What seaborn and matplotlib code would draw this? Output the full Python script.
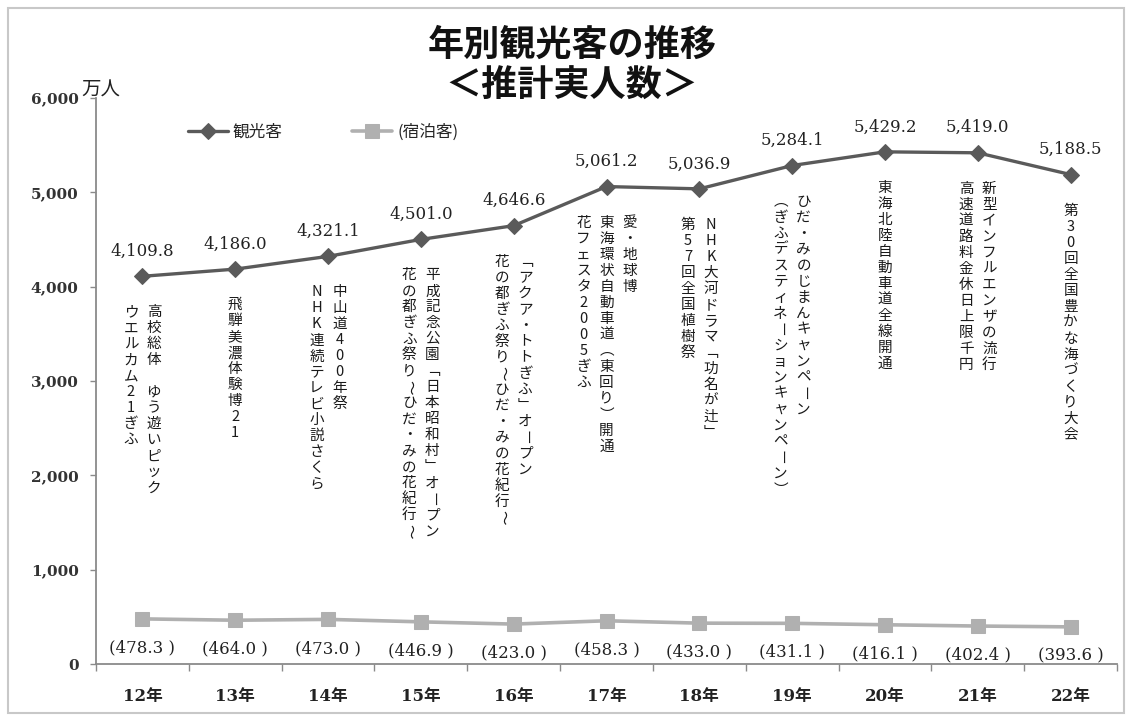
import numpy as np
import pandas as pd
import matplotlib
matplotlib.use("Agg")
import matplotlib.pyplot as plt
import seaborn as sns
from matplotlib.patches import Rectangle

# ---- data -------------------------------------------------------------
years = ["12年", "13年", "14年", "15年", "16年", "17年",
         "18年", "19年", "20年", "21年", "22年"]
visitors = [4109.8, 4186.0, 4321.1, 4501.0, 4646.6, 5061.2,
            5036.9, 5284.1, 5429.2, 5419.0, 5188.5]
overnight = [478.3, 464.0, 473.0, 446.9, 423.0, 458.3,
             433.0, 431.1, 416.1, 402.4, 393.6]
series_names = ["観光客", "(宿泊客)"]
y_ticks = [0, 1000, 2000, 3000, 4000, 5000, 6000]
title_lines = ["年別観光客の推移", "＜推計実人数＞"]
unit_label = "万人"

# events of each year; columns are read right to left (vertical writing)
events = [
    ["高校総体　ゆう遊いピック", "ウエルカム21ぎふ"],
    ["飛騨美濃体験博21"],
    ["中山道400年祭", "NHK連続テレビ小説さくら"],
    ["平成記念公園「日本昭和村」オープン", "花の都ぎふ祭り〜ひだ・みの花紀行〜"],
    ["「アクア・トトぎふ」オープン", "花の都ぎふ祭り〜ひだ・みの花紀行〜"],
    ["愛・地球博", "東海環状自動車道(東回り)開通", "花フェスタ2005ぎふ"],
    ["NHK大河ドラマ「功名が辻」", "第57回全国植樹祭"],
    ["ひだ・みのじまんキャンペーン", "(ぎふデスティネーションキャンペーン)"],
    ["東海北陸自動車道全線開通"],
    ["新型インフルエンザの流行", "高速道路料金休日上限千円"],
    ["第30回全国豊かな海づくり大会"],
]

# ---- style ------------------------------------------------------------
sns.set_theme(style="white")
plt.rcParams["font.family"] = ["Noto Sans CJK JP", "DejaVu Sans"]
NUM_FONT = ["DejaVu Serif", "Noto Sans CJK JP"]
MAIN = "#5a5a5a"
SUB = "#b0b0b0"
AXIS = "#8a8a8a"

W, H = 1131, 716
fig = plt.figure(figsize=(W / 100, H / 100), dpi=100)
fig.patch.set_facecolor("white")
ax = fig.add_axes([96 / W, 52 / H, 1021 / W, 566 / H])

df = pd.DataFrame({"year": years, "visitors": visitors, "overnight": overnight})

sns.lineplot(data=df, x="year", y="visitors", ax=ax, sort=False,
             color=MAIN, linewidth=2.4, marker="D", markersize=8,
             markeredgecolor=MAIN, label=series_names[0])
sns.lineplot(data=df, x="year", y="overnight", ax=ax, sort=False,
             color=SUB, linewidth=2.6, marker="s", markersize=10,
             markeredgecolor=SUB, label=series_names[1])

# ---- axes -------------------------------------------------------------
ax.set_xlim(-0.5, len(years) - 0.5)
ax.set_ylim(y_ticks[0], y_ticks[-1])
ax.set_xlabel("")
ax.set_ylabel("")
ax.set_yticks(y_ticks)
ax.set_yticklabels([f"{t:,}" for t in y_ticks], family=NUM_FONT,
                   fontsize=11, fontweight="bold", color="#333333")
ax.set_xticks(range(len(years)))
ax.set_xticklabels(years, family=NUM_FONT, fontsize=12,
                   fontweight="bold", color="#222222")
ax.set_xticks(np.arange(-0.5, len(years), 1.0), minor=True)

ax.tick_params(axis="y", which="major", left=True, length=4.5, width=1,
               color=AXIS, pad=8)
ax.tick_params(axis="x", which="major", bottom=True, length=0, pad=17)
ax.tick_params(axis="x", which="minor", bottom=True, length=5, width=1,
               color=AXIS)

for side in ("top", "right"):
    ax.spines[side].set_visible(False)
for side in ("left", "bottom"):
    ax.spines[side].set_color(AXIS)
    ax.spines[side].set_linewidth(1.3)

# ---- value labels -----------------------------------------------------
for i, v in enumerate(visitors):
    ax.annotate(f"{v:,.1f}", xy=(i, v), xytext=(0, 25),
                textcoords="offset pixels", ha="center", va="center",
                family=NUM_FONT, fontsize=12, color="#222222")
for i, v in enumerate(overnight):
    ax.annotate(f"({v:.1f} )", xy=(i, v), xytext=(0, -29),
                textcoords="offset pixels", ha="center", va="center",
                family=NUM_FONT, fontsize=12, color="#222222")

# ---- vertical event notes --------------------------------------------
# brackets take their vertical presentation forms; long marks are turned
VERTICAL_FORM = {"「": "﹁", "」": "﹂", "(": "︵", ")": "︶"}
ROTATE = set("ー〜")
COL_GAP = 23
PITCH = 16
for i, cols in enumerate(events):
    n = len(cols)
    for j, col in enumerate(cols):
        dx = ((n - 1) / 2 - j) * COL_GAP
        for k, ch in enumerate(col):
            if ch == "　":
                continue
            ax.annotate(VERTICAL_FORM.get(ch, ch), xy=(i, visitors[i]),
                        xytext=(dx, -36 - k * PITCH),
                        textcoords="offset pixels", ha="center",
                        va="center", fontsize=10.5, color="#1a1a1a",
                        rotation=-90 if ch in ROTATE else 0)

# ---- unit, legend, title ----------------------------------------------
ax.annotate(unit_label, xy=(0, 1), xycoords="axes fraction",
            xytext=(-15, 8), textcoords="offset pixels",
            ha="left", va="center", fontsize=14, color="#222222")

ax.legend(loc="center left", bbox_to_anchor=(0.075, 0.94), ncol=2,
          frameon=False, handlelength=2.4, handletextpad=0.3,
          columnspacing=4.2, prop={"size": 12})

fig.text(572 / W, 1 - 45 / H, title_lines[0], ha="center", va="center",
         fontsize=26, fontweight="bold", color="#111111")
fig.text(572 / W, 1 - 86 / H, title_lines[1], ha="center", va="center",
         fontsize=26, fontweight="bold", color="#111111")

fig.add_artist(Rectangle((8 / W, 3 / H), 1116 / W, 705 / H,
                         transform=fig.transFigure, fill=False,
                         edgecolor="#c8c8c8", linewidth=1.5))

fig.savefig("out.png", dpi=100, facecolor="white")
